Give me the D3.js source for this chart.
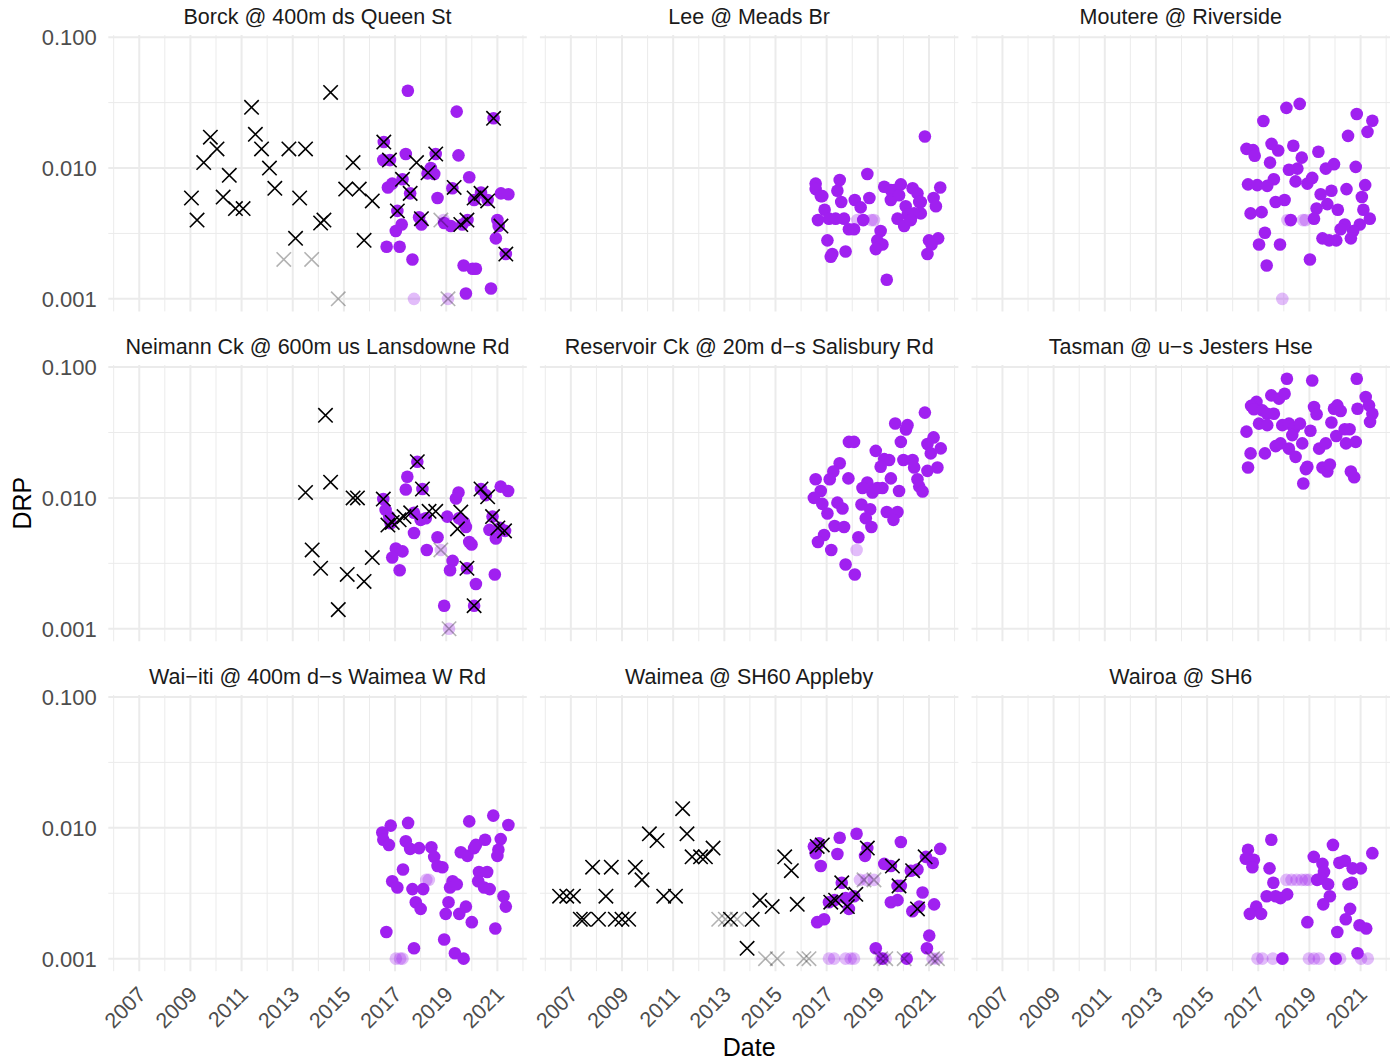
<!DOCTYPE html>
<html>
<head>
<meta charset="utf-8">
<script src="https://cdn.jsdelivr.net/npm/d3@7"></script>
<style>
html,body{margin:0;padding:0;background:#fff;}
svg{display:block;font-family:"Liberation Sans",Arial,Helvetica,sans-serif;}
</style>
</head>
<body>
<svg id="chart" width="1395" height="1063"></svg>
<script>
// ---------------- DATA ----------------
// Site titles (facet strips), row-major order
const siteNames = [
  "Borck @ 400m ds Queen St", "Lee @ Meads Br", "Moutere @ Riverside",
  "Neimann Ck @ 600m us Lansdowne Rd", "Reservoir Ck @ 20m d\u2212s Salisbury Rd", "Tasman @ u\u2212s Jesters Hse",
  "Wai\u2212iti @ 400m d\u2212s Waimea W Rd", "Waimea @ SH60 Appleby", "Wairoa @ SH6"
];
const xTickYears = [2007, 2009, 2011, 2013, 2015, 2017, 2019, 2021];
const xMinorYears = [2006, 2008, 2010, 2012, 2014, 2016, 2018, 2020, 2022];
const yTickValues = [0.001, 0.01, 0.1];
const yMinorValues = [0.00316228, 0.0316228];

// [decimal year, DRP] ; "Pts" = purple circles, "X" = black crosses, "Low" = below detection (faded)
const borckPts = [[2017.5,0.039],[2019.41,0.027],[2020.85,0.024],[2016.56,0.0158],[2017.42,0.0128],[2019.48,0.0125],[2016.54,0.0115],[2016.8,0.0115],[2018.59,0.0128],[2018.27,0.0091],[2018.4,0.01],[2018.53,0.009],[2019.9,0.0085],[2017.29,0.0082],[2016.72,0.0071],[2016.89,0.0076],[2017.59,0.0064],[2018.66,0.0059],[2019.24,0.007],[2020.09,0.0057],[2020.36,0.0065],[2020.62,0.0057],[2021.14,0.0064],[2021.43,0.0063],[2017.09,0.0047],[2017.94,0.0042],[2018.03,0.0037],[2018.92,0.0038],[2019.18,0.0036],[2019.63,0.0037],[2019.83,0.004],[2021.0,0.004],[2021.05,0.0036],[2017.26,0.0037],[2017.03,0.0033],[2020.94,0.0029],[2016.67,0.0025],[2017.18,0.0025],[2017.68,0.002],[2021.33,0.0022],[2019.68,0.0018],[2020.03,0.0017],[2020.16,0.0017],[2019.77,0.0011],[2020.75,0.0012]];
const borckPtsLow = [[2017.74,0.001],[2019.07,0.001],[2018.9,0.004]];
const borckX = [[2014.48,0.0378],[2011.39,0.0291],[2009.78,0.0172],[2011.54,0.0181],[2010.04,0.014],[2011.78,0.014],[2012.85,0.014],[2013.5,0.014],[2009.52,0.011],[2012.09,0.01],[2015.36,0.011],[2010.52,0.0088],[2012.3,0.007],[2015.07,0.0069],[2015.6,0.0069],[2009.04,0.0059],[2010.28,0.006],[2013.27,0.0059],[2016.11,0.0056],[2010.76,0.0049],[2011.06,0.0049],[2009.26,0.004],[2014.09,0.0038],[2014.22,0.004],[2013.11,0.0029],[2015.79,0.0028],[2016.56,0.0158],[2016.78,0.0115],[2017.84,0.011],[2018.59,0.0128],[2017.29,0.0082],[2018.29,0.0092],[2017.59,0.0064],[2019.31,0.0071],[2020.09,0.0059],[2020.36,0.0064],[2020.62,0.0056],[2017.09,0.0047],[2018.03,0.0041],[2019.57,0.0037],[2019.81,0.004],[2021.14,0.0036],[2020.85,0.024],[2021.33,0.0022]];
const borckXLow = [[2012.65,0.002],[2013.74,0.002],[2014.78,0.001],[2018.79,0.004],[2019.07,0.001]];

const leePts = [[2020.84,0.0174],[2018.59,0.009],[2016.57,0.0076],[2016.57,0.0069],[2017.51,0.0081],[2017.42,0.0067],[2016.77,0.0061],[2016.83,0.0061],[2017.57,0.0055],[2018.1,0.0057],[2018.33,0.005],[2018.67,0.0059],[2019.25,0.0072],[2019.51,0.0068],[2019.64,0.0068],[2019.9,0.0075],[2019.51,0.0057],[2019.83,0.0062],[2020.36,0.007],[2020.55,0.0064],[2021.44,0.0071],[2021.18,0.0059],[2021.27,0.0051],[2020.68,0.0055],[2020.62,0.0055],[2020.09,0.0051],[2020.16,0.0044],[2020.68,0.0045],[2020.42,0.0045],[2019.77,0.0041],[2020.03,0.0036],[2020.29,0.004],[2016.92,0.0048],[2016.66,0.004],[2017.09,0.0041],[2017.35,0.0041],[2017.68,0.0041],[2018.43,0.004],[2017.87,0.0034],[2018.07,0.0034],[2019.11,0.0033],[2018.98,0.0028],[2019.18,0.0026],[2018.92,0.0024],[2017.03,0.0028],[2017.22,0.0022],[2017.16,0.0021],[2017.74,0.0023],[2021.0,0.0028],[2021.36,0.0029],[2021.1,0.0026],[2020.94,0.0022],[2019.35,0.0014]];
const leePtsLow = [[2018.2,0.004],[2018.75,0.004],[2018.85,0.004]];

const moutPts = [[2018.1,0.0288],[2018.62,0.0309],[2017.2,0.0229],[2020.85,0.0259],[2021.46,0.023],[2021.27,0.0189],[2020.51,0.0176],[2017.52,0.0153],[2018.37,0.0148],[2016.54,0.014],[2016.8,0.0137],[2016.86,0.0124],[2017.78,0.0136],[2019.35,0.0133],[2018.7,0.012],[2017.46,0.011],[2018.2,0.0097],[2018.53,0.0099],[2019.64,0.0099],[2019.96,0.0107],[2020.81,0.0102],[2018.46,0.0079],[2017.61,0.0082],[2016.6,0.0075],[2016.96,0.0074],[2017.35,0.0073],[2018.92,0.0076],[2019.11,0.0084],[2021.18,0.0074],[2020.45,0.0069],[2019.44,0.0063],[2019.86,0.0067],[2021.05,0.006],[2017.68,0.0055],[2018.03,0.0057],[2019.7,0.0053],[2019.28,0.0049],[2019.18,0.0041],[2020.11,0.0048],[2021.11,0.0048],[2016.7,0.0045],[2017.13,0.0046],[2018.27,0.004],[2021.36,0.0041],[2020.97,0.0037],[2020.71,0.0033],[2020.38,0.0037],[2020.22,0.0034],[2017.26,0.0032],[2019.51,0.0029],[2019.77,0.0028],[2020.05,0.0028],[2020.62,0.0029],[2017.03,0.0026],[2017.85,0.0026],[2019.02,0.002],[2017.33,0.0018]];
const moutPtsLow = [[2018.14,0.004],[2018.75,0.004],[2018.85,0.004],[2017.94,0.001]];

const neimPts = [[2017.48,0.0145],[2017.42,0.0116],[2017.87,0.0189],[2018.07,0.0117],[2019.48,0.011],[2019.38,0.0099],[2021.13,0.0122],[2021.42,0.0113],[2020.36,0.0117],[2020.55,0.0105],[2016.54,0.0098],[2016.63,0.0081],[2016.77,0.0072],[2016.83,0.0064],[2017.74,0.0077],[2018.0,0.0068],[2018.2,0.007],[2019.04,0.0072],[2019.7,0.0065],[2019.77,0.006],[2019.5,0.007],[2020.69,0.0057],[2020.94,0.0049],[2020.81,0.0072],[2017.74,0.0054],[2018.66,0.005],[2019.9,0.0046],[2019.99,0.0044],[2017.03,0.0041],[2017.29,0.0039],[2016.89,0.0035],[2018.24,0.004],[2019.25,0.0033],[2019.15,0.0028],[2017.18,0.0028],[2020.9,0.0026],[2020.16,0.0022],[2018.92,0.0015],[2020.09,0.0015],[2019.81,0.0029],[2021.1,0.0059],[2021.3,0.0056]];
const neimPtsLow = [[2018.79,0.004],[2019.11,0.001]];
const neimX = [[2014.28,0.0428],[2014.48,0.0132],[2013.5,0.011],[2015.36,0.01],[2015.53,0.01],[2016.54,0.0098],[2017.87,0.0189],[2018.07,0.0117],[2020.36,0.0117],[2020.62,0.0102],[2019.57,0.0078],[2020.81,0.0072],[2018.33,0.0079],[2018.59,0.0079],[2017.61,0.0077],[2017.35,0.0072],[2017.16,0.0068],[2016.89,0.0065],[2016.72,0.0062],[2019.44,0.0058],[2021.02,0.0059],[2021.28,0.0056],[2013.76,0.004],[2014.09,0.0029],[2015.13,0.0026],[2015.79,0.0023],[2016.11,0.0035],[2014.78,0.0014],[2019.81,0.0029],[2020.09,0.0015]];
const neimXLow = [[2018.79,0.004],[2019.11,0.001]];

const resvPts = [[2020.84,0.0449],[2019.68,0.0371],[2020.16,0.036],[2020.1,0.0333],[2017.87,0.0268],[2018.07,0.0268],[2019.9,0.0268],[2021.18,0.029],[2020.94,0.0258],[2021.46,0.0239],[2021.07,0.0219],[2018.92,0.0229],[2019.25,0.0198],[2019.44,0.0195],[2019.11,0.0173],[2020.0,0.0195],[2020.36,0.0195],[2020.42,0.0171],[2021.33,0.0171],[2020.94,0.0161],[2017.51,0.0184],[2017.26,0.0159],[2017.12,0.0139],[2016.57,0.0139],[2017.85,0.0141],[2018.59,0.0131],[2018.4,0.0119],[2018.79,0.011],[2018.98,0.0119],[2019.18,0.0119],[2019.51,0.0141],[2019.83,0.0113],[2020.55,0.0139],[2020.62,0.0122],[2020.75,0.0112],[2016.77,0.0113],[2016.5,0.01],[2016.83,0.009],[2017.03,0.0076],[2017.42,0.0092],[2017.62,0.0083],[2018.36,0.0089],[2018.7,0.0082],[2018.53,0.007],[2018.75,0.006],[2019.35,0.0078],[2019.77,0.0078],[2019.61,0.0068],[2017.31,0.0061],[2017.68,0.006],[2016.9,0.0052],[2016.66,0.0046],[2018.24,0.005],[2017.18,0.004],[2017.74,0.0031],[2018.1,0.0026]];
const resvPtsLow = [[2018.17,0.004]];

const tasmPts = [[2018.12,0.0815],[2019.11,0.079],[2020.85,0.0815],[2017.51,0.0608],[2017.81,0.0574],[2018.03,0.0626],[2016.93,0.0542],[2016.72,0.0505],[2016.83,0.0476],[2017.16,0.0467],[2017.35,0.044],[2017.61,0.044],[2017.03,0.037],[2017.35,0.036],[2019.18,0.0496],[2019.28,0.0436],[2019.96,0.048],[2020.09,0.051],[2020.22,0.0462],[2020.88,0.048],[2021.2,0.059],[2021.33,0.051],[2021.46,0.044],[2021.37,0.0381],[2019.86,0.0377],[2017.94,0.036],[2018.2,0.037],[2018.4,0.034],[2018.63,0.037],[2018.33,0.0302],[2019.04,0.0326],[2020.38,0.0335],[2020.57,0.0335],[2020.05,0.0297],[2016.54,0.0321],[2017.68,0.0249],[2017.87,0.0261],[2018.2,0.0238],[2018.46,0.0206],[2018.72,0.0261],[2019.38,0.0238],[2019.64,0.0261],[2020.43,0.0261],[2020.81,0.0268],[2016.7,0.0219],[2017.26,0.0219],[2016.6,0.0171],[2018.92,0.0173],[2018.86,0.0166],[2019.51,0.0171],[2019.7,0.0159],[2019.8,0.018],[2020.62,0.0159],[2020.75,0.0144],[2018.76,0.0129]];

const waiiPts = [[2020.84,0.0124],[2019.9,0.0112],[2021.43,0.0105],[2016.83,0.0104],[2016.5,0.0092],[2016.54,0.0081],[2016.76,0.0074],[2017.51,0.0109],[2017.42,0.0079],[2017.59,0.0069],[2017.94,0.007],[2018.42,0.0071],[2018.53,0.006],[2018.66,0.0051],[2018.85,0.005],[2019.57,0.0065],[2019.83,0.0061],[2020.09,0.007],[2020.16,0.0074],[2020.52,0.0081],[2021.13,0.0082],[2021.04,0.0068],[2021.0,0.0061],[2017.31,0.0048],[2020.28,0.0046],[2020.6,0.0046],[2020.25,0.0039],[2020.48,0.0035],[2020.7,0.0034],[2016.89,0.0039],[2017.09,0.0035],[2017.68,0.0034],[2018.1,0.0034],[2019.25,0.0039],[2019.15,0.0035],[2019.41,0.0037],[2017.81,0.0027],[2018.0,0.0024],[2019.09,0.0027],[2018.98,0.0022],[2019.51,0.0022],[2019.77,0.0025],[2021.24,0.003],[2021.33,0.0025],[2020.0,0.0019],[2020.92,0.0017],[2016.66,0.0016],[2017.74,0.0012],[2018.92,0.0014],[2019.34,0.0011],[2019.68,0.001]];
const waiiPtsLow = [[2018.22,0.004],[2018.32,0.004],[2017.03,0.001],[2017.2,0.001],[2017.29,0.001]];

const waimPts = [[2017.51,0.0084],[2018.17,0.009],[2019.9,0.0078],[2021.44,0.0069],[2016.5,0.0072],[2016.7,0.0076],[2016.77,0.0051],[2016.57,0.0064],[2017.42,0.0063],[2018.5,0.0061],[2018.59,0.007],[2019.25,0.0053],[2019.51,0.0051],[2020.29,0.0047],[2020.55,0.0048],[2021.15,0.0054],[2020.88,0.006],[2017.59,0.0038],[2019.77,0.0036],[2019.9,0.0036],[2020.75,0.0032],[2021.2,0.0026],[2017.74,0.0029],[2018.07,0.003],[2017.09,0.0027],[2017.31,0.0028],[2017.87,0.0024],[2019.51,0.0027],[2019.77,0.0028],[2020.35,0.0023],[2020.62,0.0025],[2016.63,0.0019],[2016.9,0.002],[2021.01,0.0015],[2018.92,0.0012],[2020.92,0.0012],[2020.13,0.001],[2019.18,0.001]];
const waimPtsLow = [[2017.09,0.001],[2017.29,0.001],[2017.74,0.001],[2017.94,0.001],[2018.07,0.001],[2019.11,0.001],[2019.31,0.001],[2021.14,0.001],[2021.33,0.001],[2018.3,0.004],[2018.56,0.004],[2018.85,0.004]];
const waimX = [[2011.37,0.014],[2010.07,0.009],[2010.37,0.008],[2011.54,0.009],[2011.74,0.006],[2012.07,0.006],[2012.26,0.006],[2012.56,0.007],[2007.85,0.005],[2008.58,0.005],[2009.52,0.005],[2009.78,0.004],[2006.56,0.003],[2006.84,0.003],[2007.1,0.003],[2008.37,0.003],[2010.63,0.003],[2011.09,0.003],[2007.37,0.002],[2007.5,0.002],[2008.08,0.002],[2008.74,0.002],[2009.0,0.002],[2009.26,0.002],[2013.24,0.002],[2014.09,0.002],[2014.39,0.0028],[2014.87,0.0025],[2015.85,0.0026],[2015.36,0.006],[2015.62,0.0047],[2013.89,0.0012],[2016.63,0.0072],[2016.83,0.0074],[2018.59,0.007],[2019.57,0.0051],[2020.36,0.0047],[2020.85,0.006],[2017.59,0.0038],[2017.16,0.0027],[2017.35,0.0028],[2017.81,0.0025],[2018.14,0.0031],[2019.83,0.0036],[2020.55,0.0024]];
const waimXLow = [[2012.78,0.002],[2013.04,0.002],[2013.5,0.002],[2014.61,0.001],[2015.07,0.001],[2016.11,0.001],[2016.31,0.001],[2019.11,0.001],[2019.31,0.001],[2020.03,0.001],[2021.14,0.001],[2021.33,0.001],[2018.46,0.004],[2018.85,0.004]];

const wairPts = [[2017.51,0.0081],[2019.92,0.0074],[2021.46,0.0064],[2016.6,0.0068],[2016.51,0.0058],[2016.83,0.0057],[2016.77,0.005],[2017.44,0.0049],[2019.17,0.006],[2019.51,0.0053],[2019.57,0.0046],[2020.17,0.0054],[2020.39,0.0056],[2020.69,0.0049],[2021.01,0.0049],[2017.59,0.0038],[2019.3,0.004],[2019.47,0.0041],[2019.73,0.0037],[2020.53,0.0037],[2020.66,0.0038],[2017.33,0.003],[2017.68,0.003],[2017.87,0.0029],[2018.13,0.0031],[2019.8,0.003],[2019.54,0.0026],[2016.92,0.0025],[2016.67,0.0022],[2017.11,0.0022],[2020.59,0.0024],[2020.42,0.002],[2018.92,0.0019],[2020.96,0.0018],[2021.22,0.0017],[2020.09,0.0016],[2020.88,0.0011],[2017.94,0.001],[2020.03,0.001]];
const wairPtsLow = [[2018.1,0.004],[2018.3,0.004],[2018.5,0.004],[2018.7,0.004],[2018.85,0.004],[2018.98,0.004],[2016.97,0.001],[2017.16,0.001],[2017.57,0.001],[2017.96,0.001],[2018.98,0.001],[2019.18,0.001],[2019.37,0.001],[2020.2,0.001],[2021.02,0.001],[2021.28,0.001]];

// ---------------- PANEL TABLE (built from arrays) ----------------
const panels = [
  {pts: borckPts, ptsLow: borckPtsLow, x: borckX, xLow: borckXLow},
  {pts: leePts, ptsLow: leePtsLow, x: [], xLow: []},
  {pts: moutPts, ptsLow: moutPtsLow, x: [], xLow: []},
  {pts: neimPts, ptsLow: neimPtsLow, x: neimX, xLow: neimXLow},
  {pts: resvPts, ptsLow: resvPtsLow, x: [], xLow: []},
  {pts: tasmPts, ptsLow: [], x: [], xLow: []},
  {pts: waiiPts, ptsLow: waiiPtsLow, x: [], xLow: []},
  {pts: waimPts, ptsLow: waimPtsLow, x: waimX, xLow: waimXLow},
  {pts: wairPts, ptsLow: wairPtsLow, x: [], xLow: []}
].map((p, i) => Object.assign(p, {name: siteNames[i]}));

// ---------------- LAYOUT ----------------
const W = 418.5, H = 276.3;
const colLeft = [108.3, 539.9, 971.5];
const rowTop = [35.1, 365.0, 694.9];
const PURPLE = "#A020F0";
const GRID = "#EBEBEB";

const x = d3.scaleLinear().domain([2005.79, 2022.15]).range([0, W]);
const y = d3.scaleLog().domain([Math.pow(10, -3.096), Math.pow(10, -0.984)]).range([H, 0]);

const svg = d3.select("#chart");
svg.append("rect").attr("width", 1395).attr("height", 1063).attr("fill", "#fff");

panels.forEach((p, i) => {
  const c = i % 3, r = Math.floor(i / 3);
  const g = svg.append("g").attr("transform", `translate(${colLeft[c]},${rowTop[r]})`);

  // grid
  g.selectAll(".vmin").data(xMinorYears).enter().append("line")
    .attr("x1", d => x(d)).attr("x2", d => x(d)).attr("y1", 0).attr("y2", H)
    .attr("stroke", GRID).attr("stroke-width", 1);
  g.selectAll(".hmin").data(yMinorValues).enter().append("line")
    .attr("x1", 0).attr("x2", W).attr("y1", d => y(d)).attr("y2", d => y(d))
    .attr("stroke", GRID).attr("stroke-width", 1);
  g.selectAll(".vmaj").data(xTickYears).enter().append("line")
    .attr("x1", d => x(d)).attr("x2", d => x(d)).attr("y1", 0).attr("y2", H)
    .attr("stroke", GRID).attr("stroke-width", 2);
  g.selectAll(".hmaj").data(yTickValues).enter().append("line")
    .attr("x1", 0).attr("x2", W).attr("y1", d => y(d)).attr("y2", d => y(d))
    .attr("stroke", GRID).attr("stroke-width", 2);

  // strip title
  svg.append("text")
    .attr("x", colLeft[c] + W / 2).attr("y", rowTop[r] - 11)
    .attr("text-anchor", "middle").attr("font-size", 21.5).attr("fill", "#1A1A1A")
    .text(p.name);

  // circles
  g.selectAll(".pl").data(p.ptsLow).enter().append("circle")
    .attr("cx", d => x(d[0])).attr("cy", d => y(d[1])).attr("r", 6.3)
    .attr("fill", PURPLE).attr("fill-opacity", 0.3);
  g.selectAll(".pt").data(p.pts).enter().append("circle")
    .attr("cx", d => x(d[0])).attr("cy", d => y(d[1])).attr("r", 6.3)
    .attr("fill", PURPLE);

  // crosses
  const cross = "M-7.2,-7.2L7.2,7.2M-7.2,7.2L7.2,-7.2";
  g.selectAll(".xl").data(p.xLow).enter().append("path")
    .attr("d", cross).attr("transform", d => `translate(${x(d[0])},${y(d[1])})`)
    .attr("fill", "none").attr("stroke", "#000").attr("stroke-width", 1.6).attr("stroke-opacity", 0.3);
  g.selectAll(".xx").data(p.x).enter().append("path")
    .attr("d", cross).attr("transform", d => `translate(${x(d[0])},${y(d[1])})`)
    .attr("fill", "none").attr("stroke", "#000").attr("stroke-width", 1.6);

  // y axis labels (first column only)
  if (c === 0) {
    const ya = g.append("g").call(
      d3.axisLeft(y).tickValues(yTickValues).tickFormat(d3.format(".3f")).tickSize(0).tickPadding(11.5));
    ya.select(".domain").remove();
    ya.attr("font-family", null).attr("font-size", null);
    ya.selectAll("text").attr("font-size", 22).attr("fill", "#4D4D4D").attr("dy", "0.35em");
  }
  // x axis labels (bottom row only)
  if (r === 2) {
    const xa = g.append("g").attr("transform", `translate(0,${H})`).call(
      d3.axisBottom(x).tickValues(xTickYears).tickFormat(d3.format("d")).tickSize(0));
    xa.select(".domain").remove();
    xa.attr("font-family", null).attr("font-size", null);
    xa.selectAll("text").attr("font-size", 21.5).attr("fill", "#4D4D4D")
      .attr("x", 0).attr("y", 0).attr("dy", 0).attr("text-anchor", "end")
      .attr("transform", "translate(7.5,24.5) rotate(-45)");
  }
});

// axis titles
const plotLeft = colLeft[0], plotRight = colLeft[2] + W;
const plotTop = rowTop[0], plotBottom = rowTop[2] + H;
svg.append("text")
  .attr("x", (plotLeft + plotRight) / 2).attr("y", 1056)
  .attr("text-anchor", "middle").attr("font-size", 25).attr("fill", "#000")
  .text("Date");
svg.append("text")
  .attr("transform", `translate(31,${(plotTop + plotBottom) / 2}) rotate(-90)`)
  .attr("text-anchor", "middle").attr("font-size", 25).attr("fill", "#000")
  .text("DRP");
</script>
</body>
</html>
